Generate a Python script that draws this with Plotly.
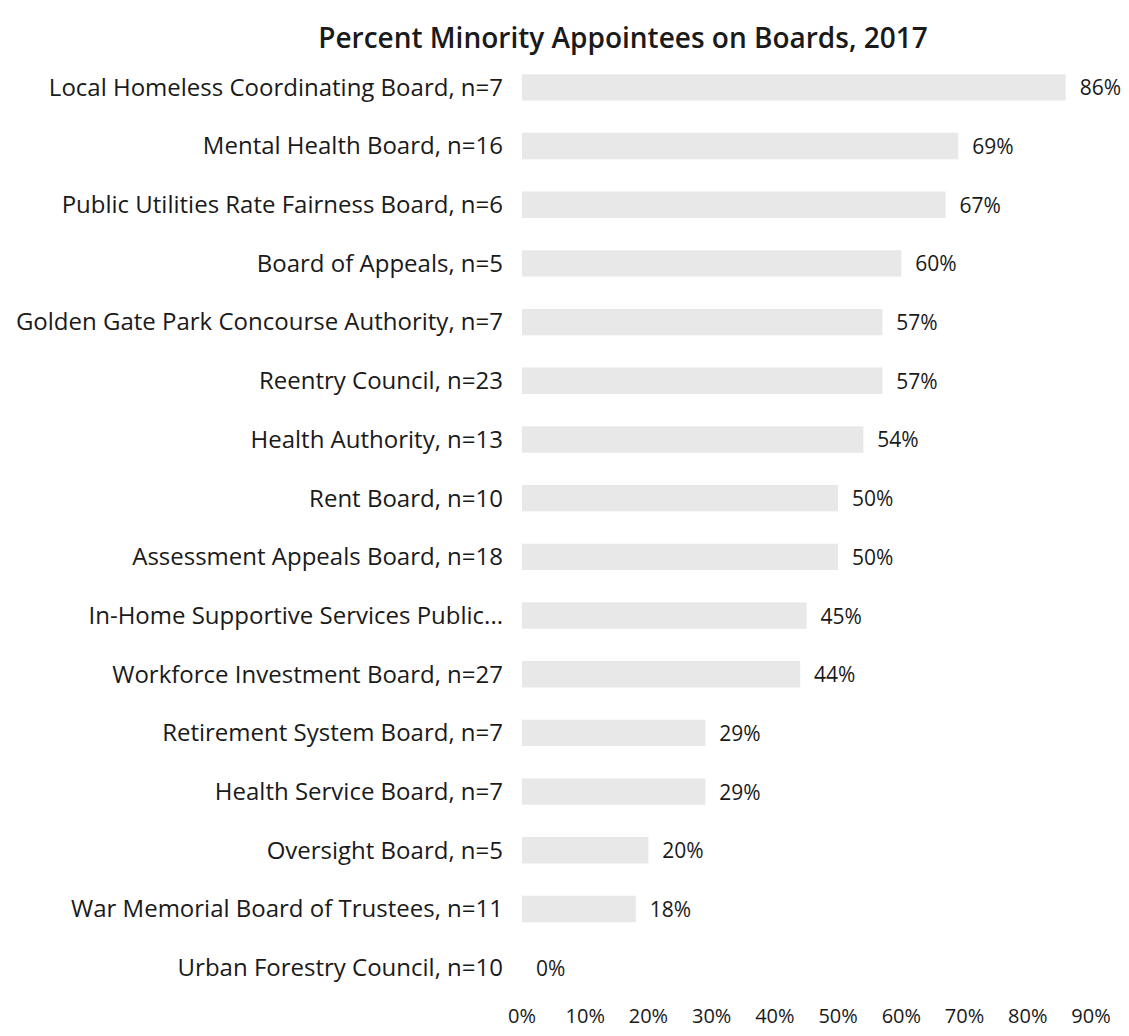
import plotly.graph_objects as go

# boards listed top to bottom, as in the picture
boards = [
    "Local Homeless Coordinating Board, n=7",
    "Mental Health Board, n=16",
    "Public Utilities Rate Fairness Board, n=6",
    "Board of Appeals, n=5",
    "Golden Gate Park Concourse Authority, n=7",
    "Reentry Council, n=23",
    "Health Authority, n=13",
    "Rent Board, n=10",
    "Assessment Appeals Board, n=18",
    "In-Home Supportive Services Public...",
    "Workforce Investment Board, n=27",
    "Retirement System Board, n=7",
    "Health Service Board, n=7",
    "Oversight Board, n=5",
    "War Memorial Board of Trustees, n=11",
    "Urban Forestry Council, n=10",
]
pct_minority = [0.86, 0.69, 0.67, 0.60, 0.57, 0.57, 0.54, 0.50,
                0.50, 0.45, 0.44, 0.29, 0.29, 0.20, 0.18, 0.0]
x_ticks = [0, 0.1, 0.2, 0.3, 0.4, 0.5, 0.6, 0.7, 0.8, 0.9]

FONT = "Open Sans"
INK = "#1a1a1a"
NBSP = "\u00a0"

# page body adds 8px margin, so the figure is 16px smaller than the window
fig = go.Figure()
fig.add_trace(go.Bar(
    x=pct_minority,
    y=boards,
    orientation="h",
    marker=dict(color="#e8e8e8", line=dict(width=0)),
    text=[NBSP * 2 + f"{v:.0%}" for v in pct_minority],
    textposition="outside",
    constraintext="none",
    textfont=dict(family=FONT, size=21, color=INK),
    cliponaxis=False,
    width=0.45,
))

fig.update_layout(
    width=1113,
    height=1020,
    paper_bgcolor="white",
    plot_bgcolor="white",
    showlegend=False,
    margin=dict(l=514, r=30, t=50, b=31),
    title=dict(
        text="Percent Minority Appointees on Boards, 2017",
        x=0.5526, xanchor="center", y=0.9706, yanchor="middle",
        font=dict(family=FONT, size=28, color=INK, weight=600),
    ),
    font=dict(family=FONT, size=21, color=INK),
)
fig.update_xaxes(
    range=[0, 0.9],
    tickvals=x_ticks,
    tickformat=".0%",
    showgrid=False,
    zeroline=False,
    showline=False,
    automargin=False,
    ticklabelstandoff=5,
    tickfont=dict(family=FONT, size=20, color=INK),
)
fig.update_yaxes(
    categoryorder="array",
    categoryarray=boards[::-1],
    showgrid=False,
    showline=False,
    automargin=False,
    ticklabelstandoff=18,
    tickfont=dict(family=FONT, size=24, color=INK),
)

fig.write_html("out.html")
